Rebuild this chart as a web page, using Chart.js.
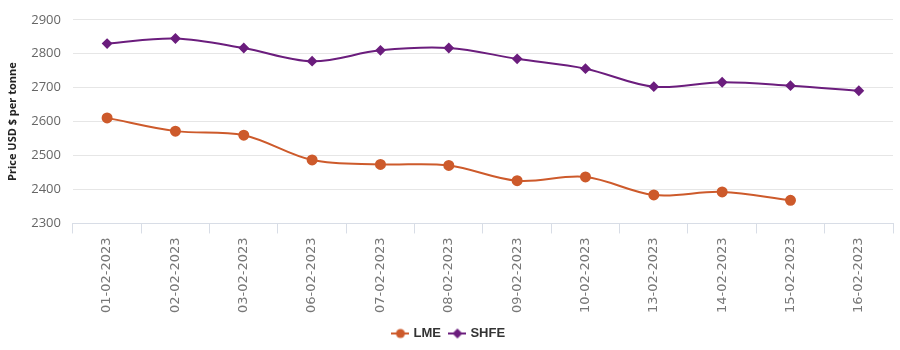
<!DOCTYPE html>
<html>
<head>
<meta charset="utf-8">
<script src="https://cdn.jsdelivr.net/npm/chart.js@4.4.1/dist/chart.umd.min.js"></script>
<style>
  html, body { margin: 0; padding: 0; background: #fff; }
  #wrap { width: 900px; height: 350px; }
</style>
</head>
<body>
<div id="wrap"><canvas id="priceChart"></canvas></div>
<script>
// categories and series
const dates = ['01-02-2023', '02-02-2023', '03-02-2023', '06-02-2023', '07-02-2023', '08-02-2023',
               '09-02-2023', '10-02-2023', '13-02-2023', '14-02-2023', '15-02-2023', '16-02-2023'];
const lmePrices = [2611, 2572, 2560, 2487, 2474, 2471, 2426, 2437, 2384, 2393, 2368, null];
const shfePrices = [2830, 2845, 2817, 2778, 2810, 2817, 2785, 2756, 2703, 2716, 2706, 2691];
const yTicks = [2300, 2400, 2500, 2600, 2700, 2800, 2900];

const lmeColor = '#CD5A2B';  // orange
const shfeColor = '#6B1D7D'; // purple

// legend swatch: short line with the marker on top
function legendIcon(color, shape) {
    const c = document.createElement('canvas');
    c.width = 18; c.height = 12;
    const ctx = c.getContext('2d');
    ctx.strokeStyle = color;
    ctx.lineWidth = 2;
    ctx.beginPath();
    ctx.moveTo(0, 6); ctx.lineTo(18, 6);
    ctx.stroke();
    ctx.fillStyle = color;
    ctx.beginPath();
    if (shape === 'circle') {
        ctx.arc(9, 6, 4.5, 0, Math.PI * 2);
    } else {
        ctx.moveTo(9, 1); ctx.lineTo(14, 6); ctx.lineTo(9, 11); ctx.lineTo(4, 6); ctx.closePath();
    }
    ctx.fill();
    return c;
}

const priceChart = new Chart(document.getElementById('priceChart'), {
    type: 'line',
    data: {
        labels: dates,
        datasets: [{
            label: 'LME',
            data: lmePrices,
            borderColor: lmeColor,
            backgroundColor: lmeColor,
            borderWidth: 2,
            pointStyle: 'circle',
            pointRadius: 4.5,
            pointHoverRadius: 5,
            tension: 0.35
        }, {
            label: 'SHFE',
            data: shfePrices,
            borderColor: shfeColor,
            backgroundColor: shfeColor,
            borderWidth: 2,
            pointStyle: 'rectRot',
            pointRadius: 4,
            pointHoverRadius: 5,
            tension: 0.35
        }]
    },
    options: {
        responsive: true,
        maintainAspectRatio: false,
        animation: false,
        layout: { padding: { left: 6, right: 7, top: 9, bottom: 0 } },
        plugins: {
            tooltip: { enabled: false },
            legend: {
                position: 'bottom',
                labels: {
                    usePointStyle: true,
                    boxWidth: 18,
                    boxHeight: 12,
                    padding: 10,
                    color: '#333',
                    font: { size: 13, weight: 'bold', family: 'Liberation Sans Narrow, Arial Narrow, sans-serif' },
                    generateLabels: function (chart) {
                        return chart.data.datasets.map(function (ds, i) {
                            return {
                                text: ds.label,
                                pointStyle: legendIcon(ds.borderColor, ds.pointStyle === 'circle' ? 'circle' : 'diamond'),
                                fillStyle: ds.borderColor,
                                strokeStyle: ds.borderColor,
                                fontColor: '#333',
                                lineWidth: 0,
                                hidden: !chart.isDatasetVisible(i),
                                datasetIndex: i
                            };
                        });
                    }
                }
            }
        },
        scales: {
            x: {
                offset: true,
                grid: {
                    offset: true,
                    drawOnChartArea: false,
                    drawTicks: true,
                    tickLength: 10,
                    color: '#D8DDE6'
                },
                border: { color: '#D8DDE6' },
                ticks: {
                    minRotation: 90,
                    maxRotation: 90,
                    color: '#777',
                    padding: 4,
                    font: { size: 13, family: 'DejaVu Sans' }
                }
            },
            y: {
                min: 2300,
                max: 2900,
                afterBuildTicks: function (axis) {
                    axis.ticks = yTicks.map(function (v) { return { value: v }; });
                },
                grid: {
                    color: '#E6E6E6',
                    drawTicks: false
                },
                border: { display: false },
                title: {
                    display: true,
                    text: 'Price USD $ per tonne',
                    color: '#222',
                    font: { size: 11, weight: 'bold', family: 'Open Sans' },
                    padding: { top: 0, bottom: 0 }
                },
                ticks: {
                    color: '#666',
                    padding: 12,
                    font: { size: 13, family: 'Open Sans' },
                    callback: function (v) { return String(v); }
                }
            }
        }
    }
});
</script>
</body>
</html>
